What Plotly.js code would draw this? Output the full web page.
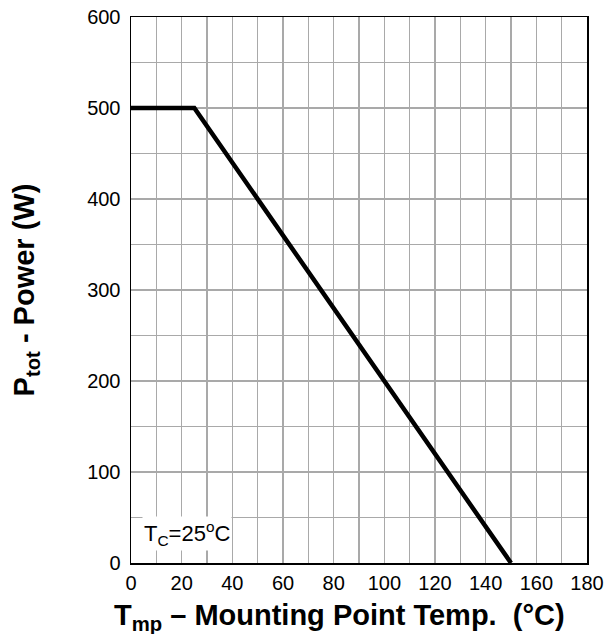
<!DOCTYPE html>
<html>
<head>
<meta charset="utf-8">
<script src="https://cdn.plot.ly/plotly-3.0.1.min.js"></script>
<style>html,body{margin:0;padding:0;background:#fff;}#chart{width:606px;height:634px;}</style>
</head>
<body>
<div id="chart"></div>
<script>
// Derating curve points
const tempMp = [0, 25, 150];
const powerTot = [500, 500, 0];

// Axis tick labels (minor grid every 10 °C / 50 W)
const xTickVals = [0, 20, 40, 60, 80, 100, 120, 140, 160, 180];
const xTickText = ['0', '20', '40', '60', '80', '100', '120', '140', '160', '180'];
const yTickVals = [0, 100, 200, 300, 400, 500, 600];
const yTickText = ['0', '100', '200', '300', '400', '500', '600'];

const fontFam = 'Liberation Sans, Arial, sans-serif';
const gridCol = '#a9a9a9';

const data = [{
  x: tempMp, y: powerTot, type: 'scatter', mode: 'lines',
  line: {color: '#000', width: 4.5}, hoverinfo: 'skip', showlegend: false
}];

const layout = {
  width: 606, height: 634,
  margin: {l: 131, r: 19, t: 17, b: 71},
  paper_bgcolor: '#fff', plot_bgcolor: '#fff',
  font: {family: fontFam, color: '#000', size: 20},
  xaxis: {
    range: [0, 180], tickmode: 'array', tickvals: xTickVals, ticktext: xTickText,
    showgrid: true, gridcolor: gridCol, gridwidth: 1.5,
    minor: {tick0: 0, dtick: 10, showgrid: true, gridcolor: gridCol, gridwidth: 1.5, ticks: ''},
    showline: true, linecolor: '#000', linewidth: 1.5, mirror: true,
    ticks: '', zeroline: false, tickfont: {size: 20, family: fontFam},
    ticklabelstandoff: 1
  },
  yaxis: {
    range: [0, 600], tickmode: 'array', tickvals: yTickVals, ticktext: yTickText,
    showgrid: true, gridcolor: gridCol, gridwidth: 1.5,
    minor: {tick0: 0, dtick: 50, showgrid: true, gridcolor: gridCol, gridwidth: 1.5, ticks: ''},
    showline: true, linecolor: '#000', linewidth: 1.5, mirror: true,
    ticks: '', zeroline: false, tickfont: {size: 20, family: fontFam},
    ticklabelstandoff: 5,
    title: {text: '<b>P<sub>tot</sub> - Power (W)</b>', font: {size: 29, family: fontFam}, standoff: 44}
  },
  annotations: [{
    x: 0.458, y: -0.099, xref: 'paper', yref: 'paper', xanchor: 'center', yanchor: 'middle',
    text: '<b>T<sub>mp</sub> – Mounting Point Temp.&nbsp; (°C)</b>', showarrow: false,
    font: {size: 29, family: fontFam, color: '#000'}
  }, {
    x: 4.5, y: 32, xref: 'x', yref: 'y', xanchor: 'left', yanchor: 'middle',
    text: 'T<sub>C</sub>=25<sup>o</sup>C', showarrow: false,
    font: {size: 22, family: fontFam, color: '#000'}, bgcolor: '#fff'
  }]
};

Plotly.newPlot('chart', data, layout, {displayModeBar: false, staticPlot: true});
</script>
</body>
</html>
